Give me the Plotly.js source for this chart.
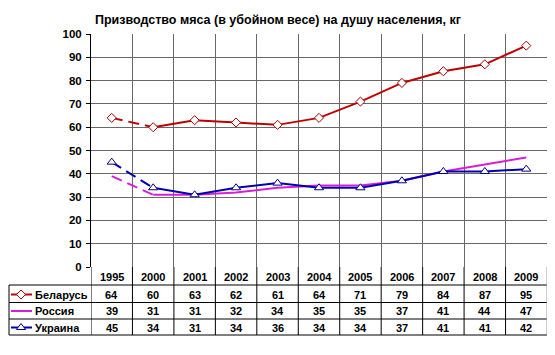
<!DOCTYPE html>
<html>
<head>
<meta charset="utf-8">
<script src="https://cdn.plot.ly/plotly-3.0.1.min.js"></script>
<style>html,body{margin:0;padding:0;background:#fff;}#chart{width:555px;height:355px;}</style>
</head>
<body>
<div id="chart"></div>
<script>
const years = ["1995","2000","2001","2002","2003","2004","2005","2006","2007","2008","2009"];
const seriesNames = ["Беларусь","Россия","Украина"];
const belarus = [64,60,63,62,61,64,71,79,84,87,95];
const russia  = [39,31,31,32,34,35,35,37,41,44,47];
const ukraine = [45,34,31,34,36,34,34,37,41,41,42];
const titleText = "Призводство мяса (в убойном весе) на душу населения, кг";

const W = 555, H = 355;
const plotL = 91, plotR = 547, plotT = 34, plotB = 267;
const rowLines = [285, 302.5, 319, 335];
const rowCenters = [294.5, 311, 327.5];
const legendL = 9;
const areaW = W - (W - plotR), areaH = H - plotT;
const py2paper = py => (H - py) / areaH;

const FONT = "Liberation Sans, Arial, sans-serif";
const colors = ["#C00000", "#D81ED8", "#0000B0"];
const markers = [
  {symbol: "diamond", size: 7, color: "#A00000"},
  null,
  {symbol: "triangle-up", size: 8, color: "#000080"}
];
const allData = [belarus, russia, ukraine];

const traces = [];
allData.forEach((vals, k) => {
  const base = {type: "scatter", mode: "lines", xaxis: "x", yaxis: "y", showlegend: false, hoverinfo: "skip"};
  traces.push(Object.assign({}, base, {x: years.slice(0, 2), y: vals.slice(0, 2), line: {color: colors[k], width: 2, dash: "11px,6px"}}));
  traces.push(Object.assign({}, base, {x: years.slice(1), y: vals.slice(1), line: {color: colors[k], width: 2}}));
  if (markers[k]) {
    traces.push({type: "scatter", mode: "markers", x: years, y: vals, xaxis: "x", yaxis: "y", showlegend: false, hoverinfo: "skip",
                 marker: {symbol: markers[k].symbol, size: markers[k].size, color: "#ffffff", line: {color: markers[k].color, width: 1}}});
  }
  traces.push({type: "scatter", mode: "lines", x: [legendL + 2, legendL + 23], y: [rowCenters[k], rowCenters[k]],
               xaxis: "x2", yaxis: "y2", showlegend: false, hoverinfo: "skip", line: {color: colors[k], width: 2}});
  if (markers[k]) {
    traces.push({type: "scatter", mode: "markers", x: [legendL + 12], y: [rowCenters[k]], xaxis: "x2", yaxis: "y2",
                 showlegend: false, hoverinfo: "skip",
                 marker: {symbol: markers[k].symbol, size: markers[k].size, color: "#ffffff", line: {color: markers[k].color, width: 1}}});
  }
});

const shapes = [];
const annotations = [];
const lineCol = "#000000";
rowLines.forEach(py => {
  shapes.push({type: "line", xref: "x2", yref: "y2", x0: legendL, x1: plotR, y0: py, y1: py, line: {color: lineCol, width: 1}});
});
shapes.push({type: "line", xref: "x2", yref: "y2", x0: legendL, x1: legendL, y0: rowLines[0], y1: rowLines[3], line: {color: lineCol, width: 1}});
for (let i = 0; i <= years.length; i++) {
  shapes.push({type: "line", xref: "x", yref: "y2", x0: i - 0.5, x1: i - 0.5, y0: plotB, y1: rowLines[3],
               line: {color: i === years.length ? "#9a9a9a" : lineCol, width: 1}});
}
shapes.push({type: "line", xref: "x2", yref: "y2", x0: plotR, x1: plotR, y0: plotT, y1: plotB, line: {color: "#9a9a9a", width: 1}});

const cellFont = {family: FONT, size: 11, weight: "bold", color: "#000"};
years.forEach((yr, i) => {
  annotations.push({xref: "x", yref: "paper", x: i, y: py2paper(276.5), text: yr, showarrow: false,
                    font: cellFont, xanchor: "center", yanchor: "middle"});
});
allData.forEach((vals, k) => {
  annotations.push({xref: "x2", yref: "paper", x: legendL + 24, y: py2paper(rowCenters[k]), text: seriesNames[k], showarrow: false,
                    font: cellFont, xanchor: "left", yanchor: "middle"});
  vals.forEach((v, i) => {
    annotations.push({xref: "x", yref: "paper", x: i, y: py2paper(rowCenters[k]), text: String(v), showarrow: false,
                      font: cellFont, xanchor: "center", yanchor: "middle"});
  });
});
annotations.push({xref: "x2", yref: "paper", x: 278, y: 1, yshift: 14, text: "<b>" + titleText + "</b>", showarrow: false,
                  font: {family: FONT, size: 12.5, color: "#000"}, xanchor: "center", yanchor: "middle"});

const layout = {
  width: W, height: H,
  margin: {l: 0, r: W - plotR, t: plotT, b: 0, pad: 0},
  paper_bgcolor: "#ffffff", plot_bgcolor: "#ffffff",
  font: {family: FONT, size: 11, color: "#000"},
  showlegend: false,
  xaxis: {
    domain: [plotL / areaW, 1], type: "category", range: [-0.5, years.length - 0.5],
    tickson: "boundaries", showgrid: true, gridcolor: "#686868", gridwidth: 1,
    showticklabels: false, ticks: "", showline: false, zeroline: false, fixedrange: true
  },
  yaxis: {
    domain: [(H - plotB) / areaH, 1], range: [0, 100], dtick: 10, tick0: 0,
    showgrid: true, gridcolor: "#686868", gridwidth: 1, zeroline: false,
    showline: true, linecolor: "#000", linewidth: 1, ticks: "outside", ticklen: 4, tickcolor: "#000",
    tickfont: {family: FONT, size: 11.5, weight: "bold", color: "#000"}, ticklabelstandoff: 2, fixedrange: true
  },
  xaxis2: {domain: [0, 1], range: [0, areaW], visible: false, fixedrange: true, anchor: "y2"},
  yaxis2: {domain: [0, (H - plotB) / areaH], range: [H, plotB], visible: false, fixedrange: true, anchor: "x2"},
  shapes: shapes,
  annotations: annotations
};

Plotly.newPlot("chart", traces, layout, {displayModeBar: false, staticPlot: true});
</script>
</body>
</html>
